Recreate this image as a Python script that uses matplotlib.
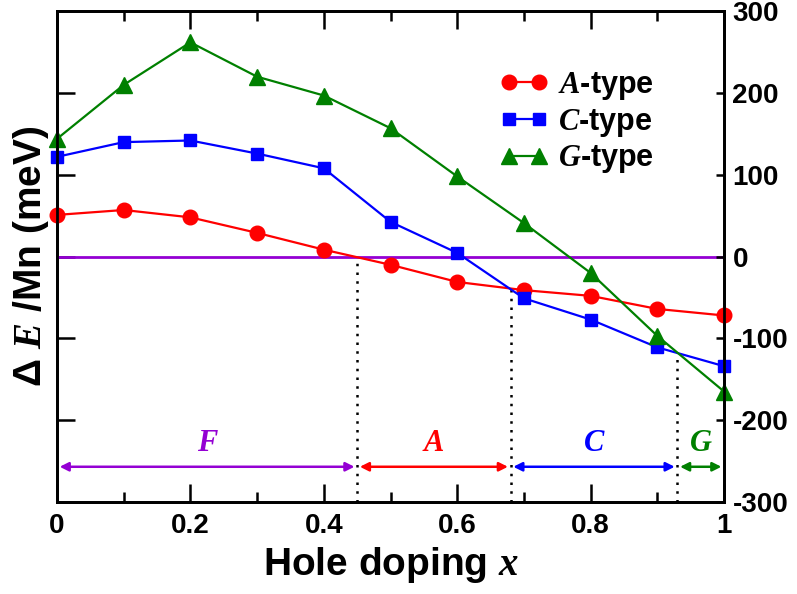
import numpy as np
import matplotlib
matplotlib.use("Agg")
import matplotlib.pyplot as plt

plt.rcParams['font.family'] = ['Liberation Sans', 'DejaVu Sans']
plt.rcParams['font.weight'] = 'bold'
plt.rcParams['axes.labelweight'] = 'bold'
plt.rcParams['mathtext.fontset'] = 'custom'
plt.rcParams['mathtext.it'] = 'Liberation Serif:italic'
plt.rcParams['mathtext.bf'] = 'Liberation Serif:bold:italic'
plt.rcParams['mathtext.rm'] = 'Liberation Sans:bold'

# Hole doping and energy differences per Mn (meV)
doping = [0.0, 0.1, 0.2, 0.3, 0.4, 0.5, 0.6, 0.7, 0.8, 0.9, 1.0]
a_type = [51, 57, 48, 29, 8.5, -10, -31, -41, -48, -64, -72]
c_type = [122, 140, 142, 126, 108, 42.5, 4.5, -51, -77, -111, -134]
g_type = [144, 210, 262, 220, 197, 157, 98, 41, -20, -97, -165]

# Ground-state phase regions along x
phase_names = ['F', 'A', 'C', 'G']
phase_bounds = [0.0, 0.45, 0.68, 0.93, 1.0]
phase_colors = ['#9400D3', '#FF0000', '#0000FF', '#008000']

fig = plt.figure(figsize=(7.97, 5.94), dpi=100)
ax = fig.add_axes([0.0715, 0.155, 0.837, 0.826])

lw = 1.6
ax.plot(doping, a_type, '-o', color='#FF0000', lw=lw, ms=10.5, zorder=4,
        clip_on=False, label=r'$\mathit{A}$-type')
ax.plot(doping, c_type, '-s', color='#0000FF', lw=lw, ms=9, zorder=4,
        clip_on=False, label=r'$\mathit{C}$-type')
ax.plot(doping, g_type, '-^', color='#008000', lw=lw, ms=11, zorder=4,
        clip_on=False, label=r'$\mathit{G}$-type')

ax.axhline(0, color='#9400D3', lw=2, zorder=3)

# Dotted boundaries, running from the crossing point down to the bottom
tops = [0.0,
        float(np.interp(phase_bounds[2], doping, c_type)),
        float(np.interp(phase_bounds[3], doping, c_type))]
for b, t in zip(phase_bounds[1:4], tops):
    ax.plot([b, b], [-300, t], color='black', ls=(0, (1, 2.5)), lw=1.8, zorder=2)

# Phase arrows and labels
arrow_y = -257
label_y = -228
gap = 0.004
for name, lo, hi, col in zip(phase_names, phase_bounds[:-1], phase_bounds[1:], phase_colors):
    ax.annotate('', xy=(lo + gap, arrow_y), xytext=(hi - gap, arrow_y),
                arrowprops=dict(arrowstyle='<|-|>', color=col, lw=1.8,
                                mutation_scale=13, shrinkA=0, shrinkB=0))
    ax.text((lo + hi) / 2, label_y, name, color=col, ha='center', va='center',
            fontsize=22, family='Liberation Serif', style='italic', weight='bold')

ax.set_xlim(0, 1)
ax.set_ylim(-300, 300)
ax.set_xticks([0, 0.2, 0.4, 0.6, 0.8, 1.0])
ax.set_xticklabels(['0', '0.2', '0.4', '0.6', '0.8', '1'])
ax.set_xticks(np.arange(0.1, 1.0, 0.2), minor=True)
ax.set_yticks([-200, -100, 0, 100, 200])
ax.tick_params(axis='x', which='major', direction='in', length=13, width=1.8,
               top=True, labelsize=20, pad=8)
ax.tick_params(axis='x', which='minor', direction='in', length=7, width=1.8, top=True)
ax.tick_params(axis='y', direction='in', length=13, width=1.8, left=True,
               right=False, labelleft=False)

ax2 = ax.twinx()
ax2.set_ylim(-300, 300)
ax2.set_yticks([-300, -200, -100, 0, 100, 200, 300])
ax2.set_yticklabels(['-300', '-200', '-100', '0', '100', '200', '300'])
ax2.tick_params(axis='y', direction='in', length=6, width=1.8, labelsize=20, pad=6)

for a in (ax, ax2):
    for s in a.spines.values():
        s.set_linewidth(2.0)

ax.set_xlabel(r'Hole doping $\mathbf{x}$', fontsize=28, labelpad=4)
ax.set_ylabel(r'Δ $\mathbf{E}$ /Mn (meV)', fontsize=28, labelpad=4)

leg = ax.legend(loc='upper left', bbox_to_anchor=(0.645, 0.905), frameon=False,
                fontsize=22, numpoints=2, handlelength=1.6, handletextpad=0.3,
                labelspacing=0.15, borderaxespad=0)

fig.savefig('out.png', dpi=100)
